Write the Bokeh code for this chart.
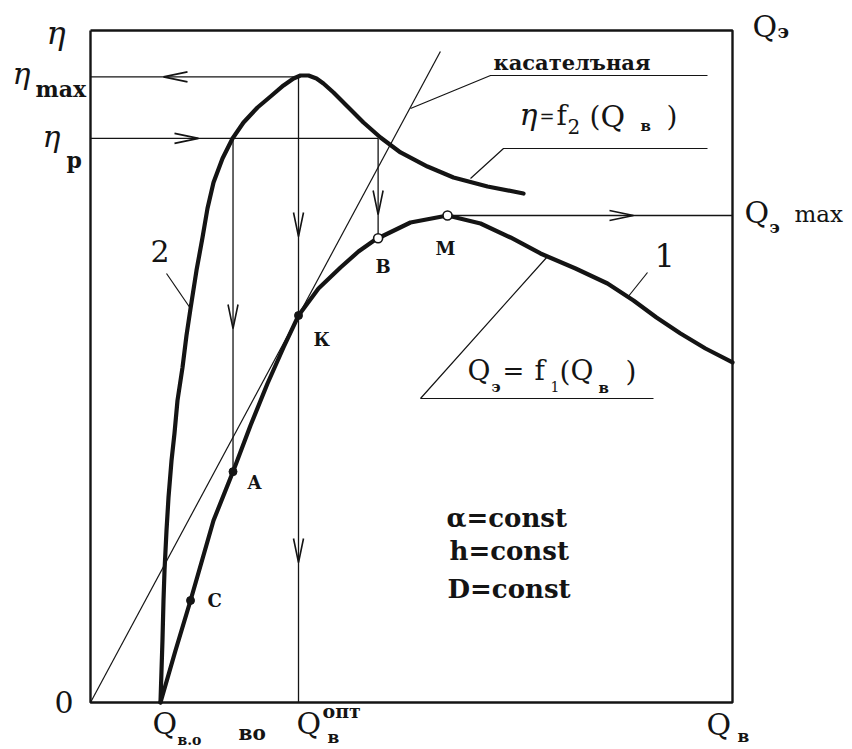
import numpy as np
from bokeh.plotting import figure
from bokeh.models import Range1d
from bokeh.core.properties import value
from bokeh.embed import file_html
from bokeh.resources import INLINE

# Pump characteristics in relative units (0..100 on both axes)
# curve 2: efficiency  eta = f2(Q_v)
q_eff = [10.9, 11.06, 11.21, 11.37, 11.53, 11.84, 12.15, 12.62, 13.08, 13.55,
         14.33, 14.95, 15.58, 16.51, 17.45, 18.22, 19.16, 20.56, 22.12, 23.83,
         26.01, 28.04, 30.06, 31.62, 32.71, 33.96, 35.20, 36.29, 37.85, 40.03,
         42.52, 45.17, 48.29, 52.49, 56.54, 61.84, 67.45]
eff = [0.0, 4.76, 9.23, 15.18, 19.64, 25.60, 30.51, 36.01, 40.03, 44.94,
       49.85, 54.61, 58.63, 64.29, 69.20, 73.51, 77.38, 80.95, 83.93, 86.31,
       88.54, 90.18, 91.82, 92.86, 93.30, 93.30, 92.86, 92.11, 90.77, 88.69,
       86.31, 84.08, 81.85, 79.76, 78.13, 76.79, 75.74]

# curve 1: delivered flow  Q_e = f1(Q_v)
q_sup = [10.9, 13.24, 15.58, 19.16, 22.27, 24.92, 27.57, 30.06, 32.40, 35.51,
         38.94, 41.74, 44.39, 49.84, 55.61, 60.75, 65.42, 70.09, 75.55, 80.53,
         84.58, 88.16, 91.90, 95.79, 100.0]
q_del = [0.0, 7.74, 15.18, 27.08, 34.52, 41.22, 47.47, 52.83, 57.59, 61.61,
         64.73, 67.11, 68.90, 71.43, 72.47, 71.28, 69.20, 66.82, 64.58, 62.35,
         59.82, 57.29, 54.91, 52.68, 50.60]

# characteristic levels
q_vo = 10.9       # Q_v.o
q_opt = 32.4      # Q_v opt (point K)
q_a = 22.2        # point A
q_b = 44.8        # point B
q_m = 55.61       # point M
eta_max = 93.1
eta_p = 83.95
x_max = 100.0
y_max = 100.0
tangent_reach = 54.5

# labelled points on curve 1
pt_names = ["C", "A", "К", "B", "M"]
pt_q = [15.58, q_a, q_opt, q_b, q_m]
pt_filled = [True, True, True, False, False]

# ---- canvas geometry (pixels) ----
W, H = 852, 749
X0, X1 = 90, 732      # frame left / right in pixels
Y0, Y1 = 702, 30      # frame bottom / top in pixels
SX = (X1 - X0) / x_max
SY = (Y0 - Y1) / y_max


def dx(px):
    return (px - X0) / SX


def dy(py):
    return (Y0 - py) / SY


p = figure(width=W, height=H, output_backend="svg", toolbar_location=None,
           x_range=Range1d(dx(0), dx(W)), y_range=Range1d(dy(H), dy(0)),
           x_axis_location=None, y_axis_location=None, min_border=0)
p.grid.visible = False
p.outline_line_color = None
p.background_fill_color = "white"
p.border_fill_color = "white"

INK = "#141414"
FONT = "DejaVu Serif"

# frame
p.line([0, x_max, x_max, 0, 0], [y_max, y_max, 0, 0, y_max], line_color=INK, line_width=2.4)

qa_val = float(np.interp(q_a, q_sup, q_del))
qb_val = float(np.interp(q_b, q_sup, q_del))
qm_val = float(np.interp(q_m, q_sup, q_del))
k_val = float(np.interp(q_opt, q_sup, q_del))

# construction lines
thin = dict(line_color=INK, line_width=1.3)
p.line([0, q_opt], [eta_max, eta_max], **thin)
p.line([q_opt, q_opt], [eta_max, 0], **thin)
p.line([0, q_b], [eta_p, eta_p], **thin)
p.line([q_a, q_a], [eta_p, qa_val], **thin)
p.line([q_b, q_b], [eta_p, qb_val], **thin)
p.line([q_m, x_max], [qm_val, qm_val], **thin)

# tangent from the origin through K
slope = k_val / q_opt
p.line([0, tangent_reach], [0, slope * tangent_reach], line_color=INK, line_width=1.2)

# curves
p.line(q_eff, eff, line_color=INK, line_width=4.2, line_join="round", line_cap="round")
p.line(q_sup, q_del, line_color=INK, line_width=4.2, line_join="round", line_cap="round")

# points
pt_v = [float(np.interp(q, q_sup, q_del)) for q in pt_q]
fx = [q for q, f in zip(pt_q, pt_filled) if f]
fy = [v for v, f in zip(pt_v, pt_filled) if f]
hx = [q for q, f in zip(pt_q, pt_filled) if not f]
hy = [v for v, f in zip(pt_v, pt_filled) if not f]
p.scatter(fx, fy, size=8, fill_color=INK, line_color=INK)
p.scatter(hx, hy, size=9, fill_color="white", line_color=INK, line_width=1.6)


# arrow heads drawn as narrow chevrons
def head(x, y, direction, length=24, half=5):
    L = length
    if direction == "down":
        xs = [x - half / SX, x, x + half / SX]
        ys = [y + L / SY, y, y + L / SY]
    elif direction == "left":
        xs = [x + L / SX, x, x + L / SX]
        ys = [y + half / SY, y, y - half / SY]
    else:
        xs = [x - L / SX, x, x - L / SX]
        ys = [y + half / SY, y, y - half / SY]
    p.line(xs, ys, line_color=INK, line_width=1.6)


head(dx(163), eta_max, "left")
head(dx(198), eta_p, "right")
head(q_a, dy(328), "down")
head(q_opt, dy(236), "down")
head(q_opt, dy(562), "down")
head(q_b, dy(214), "down")
head(dx(633), qm_val, "right")

# leader lines for the captions
lead = dict(line_color=INK, line_width=1.2)
p.line([dx(410), dx(490), dx(707)], [dy(108), dy(75), dy(75)], **lead)
p.line([dx(470), dx(503), dx(707)], [dy(178), dy(148), dy(148)], **lead)
p.line([dx(547), dx(420), dx(653)], [dy(256), dy(398), dy(398)], **lead)
p.line([dx(647), dx(627)], [dy(272), dy(297)], **lead)
p.line([dx(166), dx(190)], [dy(273), dy(308)], **lead)


def txt(px, py, s, size, style="normal", font=FONT):
    # py is the pixel row of the text baseline
    base = py - 0.38 * size
    p.text(x=[dx(px)], y=[dy(base)], text=[s], text_font=value(font),
           text_font_size=value(f"{size}px"), text_font_style=value(style),
           text_align="left", text_baseline="alphabetic", text_color=INK)


# left scale labels
txt(46, 45, "η", 32, "italic")
txt(12, 84, "η", 30, "italic")
txt(35, 97, "max", 22, "bold")
txt(42, 147, "η", 30, "italic")
txt(66, 168, "р", 22, "bold")
txt(54, 713, "0", 30)

# bottom labels
txt(152, 734, "Q", 30)
txt(177, 745, "в.о", 14, "bold")
txt(238, 740, "во", 20, "bold")
txt(296, 734, "Q", 30)
txt(322, 718, "опт", 19, "bold")
txt(327, 743, "в", 17, "bold")
txt(706, 735, "Q", 30)
txt(737, 742, "в", 17, "bold")

# right labels
txt(752, 37, "Q", 30)
txt(777, 38, "э", 19, "bold")
txt(744, 223, "Q", 30)
txt(769, 233, "э", 17, "bold")
txt(794, 222, "max", 23)

# captions
txt(493, 70, "касателъная", 21, "bold")

txt(519, 125, "η", 30, "italic")
txt(539, 123, "=", 18)
txt(556, 126, "f", 28)
txt(567, 134, "2", 20)
txt(589, 127, "(", 28)
txt(600, 127, "Q", 30)
txt(640, 131, "в", 15, "bold")
txt(666, 127, ")", 28)

txt(467, 381, "Q", 28)
txt(491, 392, "э", 15, "bold")
txt(502, 380, "=", 26)
txt(534, 381, "f", 28)
txt(550, 391, "1", 14)
txt(559, 382, "(", 28)
txt(570, 381, "Q", 28)
txt(598, 393, "в", 15, "bold")
txt(625, 382, ")", 28)

txt(446, 527, "α=const", 26, "bold")
txt(449, 560, "h=const", 26, "bold")
txt(447, 598, "D=const", 26, "bold")

txt(150, 262, "2", 30)
txt(654, 267, "1", 32)

# point labels
txt(207, 607, "C", 18, "bold")
txt(247, 489, "A", 18, "bold")
txt(313, 346, "К", 18, "bold")
txt(375, 273, "B", 18, "bold")
txt(435, 255, "M", 18, "bold")

open("out.html", "w").write(file_html(p, INLINE))
